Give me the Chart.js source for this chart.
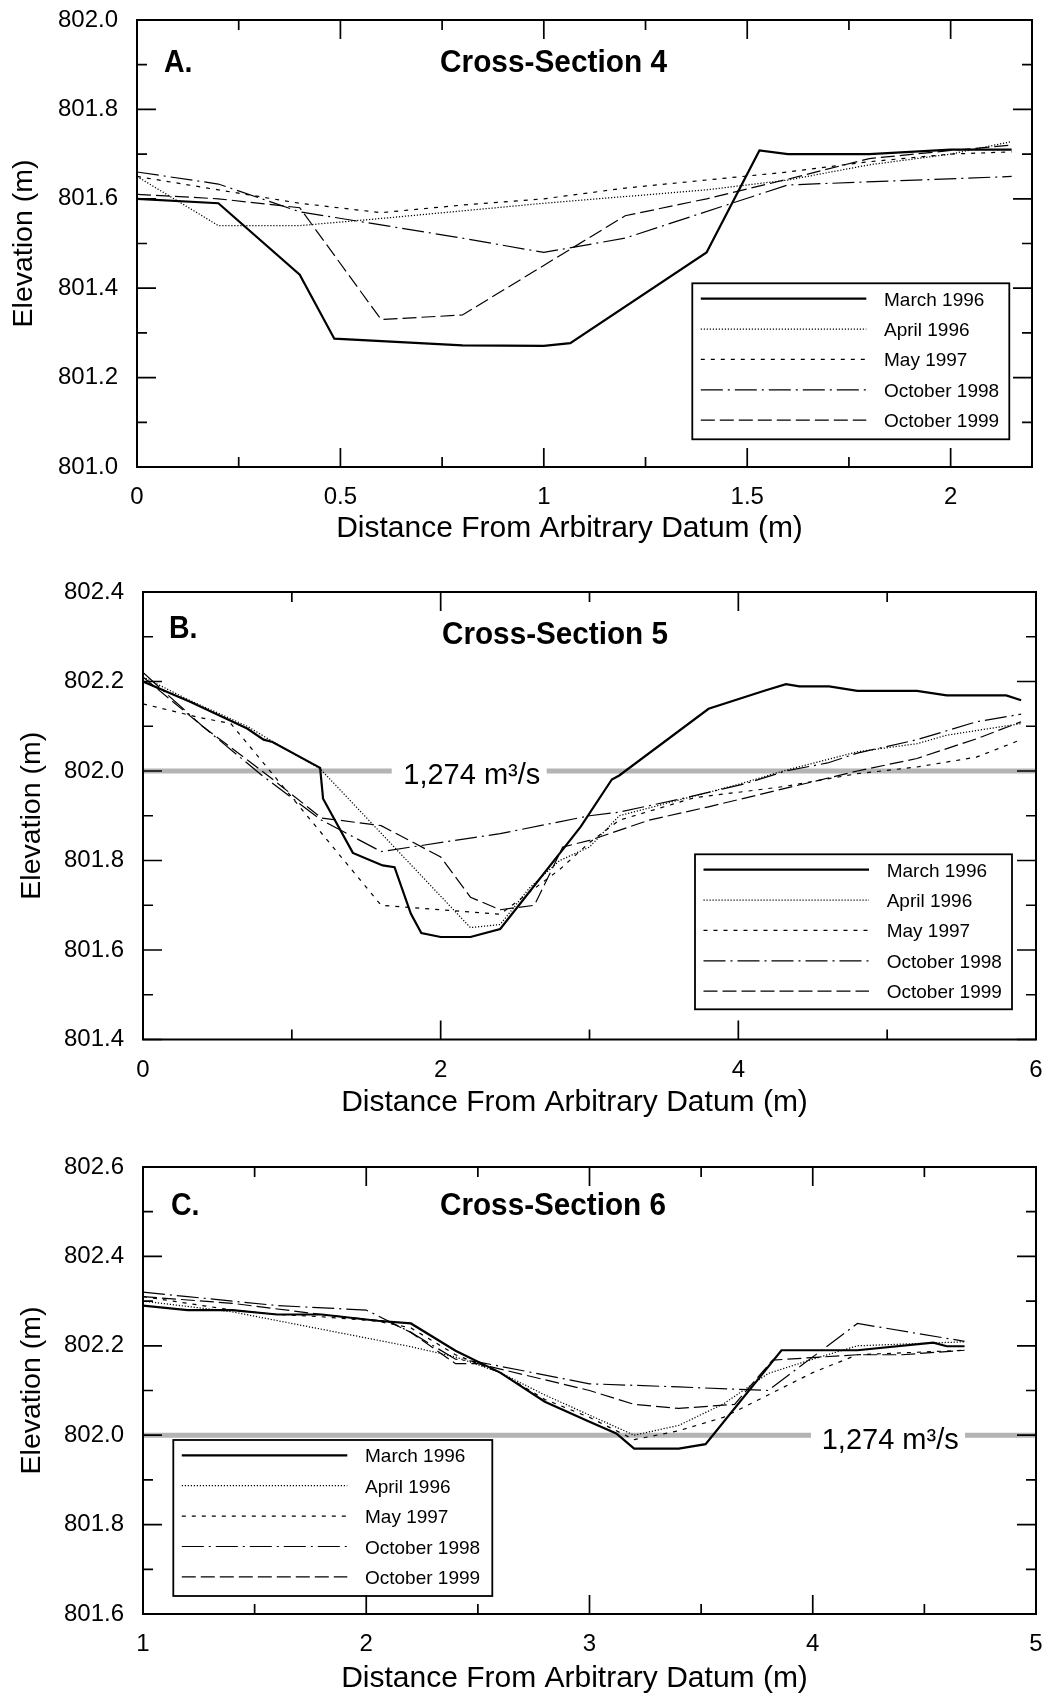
<!DOCTYPE html>
<html>
<head>
<meta charset="utf-8">
<script src="https://cdn.jsdelivr.net/npm/chart.js@4.4.1/dist/chart.umd.min.js"></script>
<style>
  html, body { margin: 0; padding: 0; background: #fff; }
  #wrap { position: relative; width: 1045px; height: 1697px; overflow: hidden; background: #fff; }
  canvas { position: absolute; left: 0; }
</style>
</head>
<body>
<div id="wrap">
  <canvas id="cA" width="1045" height="560" style="top:0px"></canvas>
  <canvas id="cB" width="1045" height="560" style="top:560px"></canvas>
  <canvas id="cC" width="1045" height="577" style="top:1120px"></canvas>
</div>
<script>
// ---------------- DATA ----------------
const seriesNames = ['March 1996', 'April 1996', 'May 1997', 'October 1998', 'October 1999'];

// Cross-Section 4 (panel A)
const a_x_mar = [0, 0.2, 0.4, 0.485, 0.8, 1.0, 1.065, 1.4, 1.53, 1.6, 1.8, 2.0, 2.15];
const a_y_mar = [801.60, 801.59, 801.43, 801.287, 801.272, 801.271, 801.277, 801.48, 801.708, 801.70, 801.70, 801.71, 801.71];
const a_x_apr = [0, 0.2, 0.4, 0.6, 0.8, 1.0, 1.2, 1.4, 1.6, 1.8, 2.0, 2.15];
const a_y_apr = [801.65, 801.54, 801.54, 801.556, 801.573, 801.59, 801.605, 801.62, 801.642, 801.676, 801.70, 801.728];
const a_x_may = [0, 0.4, 0.6, 0.8, 1.0, 1.2, 1.4, 1.6, 1.8, 2.0, 2.15];
const a_y_may = [801.65, 801.59, 801.569, 801.586, 801.60, 801.624, 801.642, 801.66, 801.683, 801.70, 801.705];
const a_x_o98 = [0, 0.2, 0.4, 0.8, 1.0, 1.2, 1.6, 2.15];
const a_y_o98 = [801.66, 801.633, 801.571, 801.512, 801.48, 801.512, 801.631, 801.65];
const a_x_o99 = [0, 0.2, 0.4, 0.6, 0.8, 1.2, 1.4, 1.6, 1.8, 2.0, 2.15];
const a_y_o99 = [801.61, 801.60, 801.58, 801.33, 801.34, 801.562, 801.60, 801.644, 801.69, 801.708, 801.72];

// Cross-Section 5 (panel B)
const b_x_mar = [0, 0.32, 0.7, 0.81, 0.87, 1.19, 1.21, 1.41, 1.61, 1.69, 1.8, 1.87, 2.0, 2.2, 2.4, 2.94, 3.15, 3.2, 3.8, 4.18, 4.32, 4.41, 4.61, 4.8, 5.2, 5.4, 5.8, 5.9];
const b_y_mar = [802.20, 802.154, 802.095, 802.07, 802.065, 802.007, 801.938, 801.817, 801.789, 801.785, 801.681, 801.638, 801.629, 801.629, 801.647, 801.875, 801.981, 801.99, 802.139, 802.18, 802.194, 802.189, 802.189, 802.179, 802.179, 802.169, 802.169, 802.158];
const b_x_apr = [0, 0.3, 0.7, 0.9, 1.19, 2.2, 2.4, 2.6, 2.8, 3.0, 3.2, 3.6, 4.0, 4.3, 4.8, 5.2, 5.4, 5.9];
const b_y_apr = [802.21, 802.16, 802.10, 802.06, 802.005, 801.65, 801.657, 801.74, 801.80, 801.83, 801.90, 801.935, 801.97, 802.0, 802.043, 802.061, 802.08, 802.106];
const b_x_may = [0, 0.36, 0.59, 1.6, 2.4, 2.6, 2.8, 3.0, 3.2, 3.7, 4.3, 4.8, 5.2, 5.6, 5.9];
const b_y_may = [802.15, 802.121, 802.106, 801.70, 801.68, 801.73, 801.78, 801.84, 801.89, 801.94, 801.965, 801.994, 802.009, 802.031, 802.07];
const b_x_o98 = [0, 0.4, 0.8, 1.2, 1.6, 2.4, 3.0, 3.2, 3.67, 4.05, 4.32, 4.6, 4.8, 5.2, 5.4, 5.6, 5.9];
const b_y_o98 = [802.22, 802.10, 801.99, 801.89, 801.82, 801.86, 801.90, 801.908, 801.942, 801.972, 802.0, 802.018, 802.04, 802.07, 802.09, 802.11, 802.127];
const b_x_o99 = [0, 0.4, 0.8, 1.2, 1.6, 2.0, 2.2, 2.4, 2.63, 2.82, 3.0, 3.4, 3.8, 4.3, 4.8, 5.2, 5.6, 5.9];
const b_y_o99 = [802.21, 802.10, 802.0, 801.895, 801.878, 801.808, 801.718, 801.69, 801.70, 801.83, 801.845, 801.89, 801.92, 801.96, 802.0, 802.028, 802.072, 802.11];

// Cross-Section 6 (panel C)
const c_x_mar = [1, 1.2, 1.4, 1.6, 1.8, 2.05, 2.2, 2.4, 2.6, 2.8, 3.0, 3.12, 3.2, 3.4, 3.52, 3.86, 4.2, 4.54, 4.6, 4.68];
const c_y_mar = [802.29, 802.28, 802.28, 802.27, 802.27, 802.256, 802.25, 802.189, 802.14, 802.075, 802.03, 802.004, 801.97, 801.97, 801.98, 802.19, 802.19, 802.207, 802.199, 802.199];
const c_x_apr = [1, 1.4, 1.8, 2.2, 2.4, 2.6, 2.8, 3.0, 3.2, 3.4, 3.6, 3.8, 4.0, 4.2, 4.68];
const c_y_apr = [802.30, 802.276, 802.237, 802.198, 802.175, 802.14, 802.09, 802.045, 802.0, 802.022, 802.07, 802.138, 802.17, 802.20, 802.209];
const c_x_may = [1, 1.2, 1.4, 1.6, 1.8, 2.05, 2.2, 2.4, 2.6, 2.8, 3.0, 3.2, 3.4, 3.6, 3.8, 4.0, 4.2, 4.68];
const c_y_may = [802.31, 802.295, 802.28, 802.27, 802.265, 802.255, 802.24, 802.18, 802.14, 802.08, 802.04, 801.99, 802.01, 802.04, 802.09, 802.14, 802.18, 802.19];
const c_x_o98 = [1, 1.2, 1.6, 2.0, 2.2, 2.4, 2.5, 3.0, 3.4, 3.8, 4.2, 4.68];
const c_y_o98 = [802.32, 802.31, 802.29, 802.28, 802.23, 802.17, 802.164, 802.115, 802.108, 802.10, 802.25, 802.21];
const c_x_o99 = [1, 1.4, 1.8, 2.1, 2.2, 2.4, 2.5, 3.0, 3.2, 3.4, 3.65, 3.82, 4.2, 4.4, 4.68];
const c_y_o99 = [802.31, 802.295, 802.27, 802.254, 802.23, 802.16, 802.16, 802.10, 802.069, 802.06, 802.069, 802.168, 802.18, 802.18, 802.19];

// Axis ticks (labelled and unlabelled)
const a_xTicks = [0, 0.5, 1, 1.5, 2];
const a_xMinor = [0.25, 0.75, 1.25, 1.75];
const a_yTicks = [801.0, 801.2, 801.4, 801.6, 801.8, 802.0];
const a_yMinor = [801.1, 801.3, 801.5, 801.7, 801.9];
const b_xTicks = [0, 2, 4, 6];
const b_xMinor = [1, 3, 5];
const b_yTicks = [801.4, 801.6, 801.8, 802.0, 802.2, 802.4];
const b_yMinor = [801.5, 801.7, 801.9, 802.1, 802.3];
const c_xTicks = [1, 2, 3, 4, 5];
const c_xMinor = [1.5, 2.5, 3.5, 4.5];
const c_yTicks = [801.6, 801.8, 802.0, 802.2, 802.4, 802.6];
const c_yMinor = [801.7, 801.9, 802.1, 802.3, 802.5];

// Reference flow level
const flowLevel = 802.0;
const flowLabel = '1,274 m\u00B3/s';

// ---------------- STYLE ----------------
const FONT = '"Liberation Sans", Arial, Helvetica, sans-serif';
const lineStyles = [
  { width: 2.2, dash: [] },
  { width: 1.25, dash: [1.2, 1.8] },
  { width: 1.2, dash: [4, 6] },
  { width: 1.2, dash: [22, 5, 2, 5] },
  { width: 1.2, dash: [14, 5] }
];

const decorCfg = {
  cA: {
    letter: 'A.', letterDx: 27, letterBase: 51.7,
    title: 'Cross-Section 4', titleDx: 303, titleBase: 51.7, titleW: 227,
    xTitleDx: 432.5, xTitleBase: 70,
    legend: { dx: 555.3, dy: 263.3, w: 317, h: 156 },
    xMajor: a_xTicks, xMinor: a_xMinor, yMajor: a_yTicks, yMinor: a_yMinor,
    ref: null
  },
  cB: {
    letter: 'B.', letterDx: 26, letterBase: 46.3,
    title: 'Cross-Section 5', titleDx: 299, titleBase: 52, titleW: 226,
    xTitleDx: 431.5, xTitleBase: 71,
    legend: { dx: 552, dy: 262.3, w: 317, h: 155 },
    xMajor: b_xTicks, xMinor: b_xMinor, yMajor: b_yTicks, yMinor: b_yMinor,
    ref: { gapStart: 248.7, gapEnd: 403.7, textLeft: 260.3, dy: 12.5 }
  },
  cC: {
    letter: 'C.', letterDx: 28, letterBase: 48,
    title: 'Cross-Section 6', titleDx: 297, titleBase: 48, titleW: 226,
    xTitleDx: 431.5, xTitleBase: 73,
    legend: { dx: 30.3, dy: 273, w: 319, h: 156 },
    xMajor: c_xTicks, xMinor: c_xMinor, yMajor: c_yTicks, yMinor: c_yMinor,
    ref: { gapStart: 668, gapEnd: 822, textLeft: 678.7, dy: 13.5 }
  }
};

function condensedText(ctx, text, x, base, size, targetW, sx) {
  ctx.save();
  ctx.font = 'bold ' + size + 'px ' + FONT;
  const w = ctx.measureText(text).width;
  const s = targetW ? targetW / w : sx;
  ctx.translate(x, base);
  ctx.scale(s, 1);
  ctx.textAlign = 'left';
  ctx.textBaseline = 'alphabetic';
  ctx.fillStyle = '#000';
  ctx.fillText(text, 0, 0);
  ctx.restore();
}

const decorPlugin = {
  id: 'decor',
  beforeDatasetsDraw(chart) {
    const o = decorCfg[chart.canvas.id];
    if (!o || !o.ref) return;
    const { ctx, chartArea: ca } = chart;
    const py = chart.scales.y.getPixelForValue(flowLevel);
    ctx.save();
    ctx.strokeStyle = '#b4b4b4';
    ctx.lineWidth = 5;
    ctx.lineCap = 'butt';
    ctx.beginPath();
    ctx.moveTo(ca.left, py); ctx.lineTo(ca.left + o.ref.gapStart, py);
    ctx.moveTo(ca.left + o.ref.gapEnd, py); ctx.lineTo(ca.right, py);
    ctx.stroke();
    ctx.fillStyle = '#000';
    ctx.font = '29px ' + FONT;
    ctx.textAlign = 'left';
    ctx.textBaseline = 'alphabetic';
    ctx.fillText(flowLabel, ca.left + o.ref.textLeft, py + o.ref.dy);
    ctx.restore();
  },
  afterDatasetsDraw(chart) {
    const o = decorCfg[chart.canvas.id];
    if (!o) return;
    const { ctx, chartArea: ca } = chart;
    const xs = chart.scales.x, ys = chart.scales.y;
    ctx.save();
    ctx.setLineDash([]);
    // legend
    const L = o.legend;
    const bx = ca.left + L.dx, by = ca.top + L.dy;
    ctx.fillStyle = '#fff';
    ctx.fillRect(bx, by, L.w, L.h);
    ctx.strokeStyle = '#000';
    ctx.lineWidth = 1.8;
    ctx.strokeRect(bx, by, L.w, L.h);
    chart.data.datasets.forEach((ds, i) => {
      const ry = by + 15.3 + i * 30.4;
      ctx.save();
      ctx.lineWidth = ds.borderWidth;
      ctx.setLineDash(ds.borderDash || []);
      ctx.strokeStyle = '#000';
      ctx.beginPath();
      ctx.moveTo(bx + 8.5, ry);
      ctx.lineTo(bx + 174, ry);
      ctx.stroke();
      ctx.restore();
      ctx.fillStyle = '#000';
      ctx.font = '19px ' + FONT;
      ctx.textAlign = 'left';
      ctx.textBaseline = 'alphabetic';
      ctx.fillText(ds.label, bx + 191.7, ry + 7);
    });
    // frame
    ctx.strokeStyle = '#000';
    ctx.lineWidth = 2;
    ctx.strokeRect(ca.left, ca.top, ca.right - ca.left, ca.bottom - ca.top);
    // ticks (inward, all four sides)
    ctx.lineWidth = 1.7;
    ctx.beginPath();
    const vt = (vals, len) => vals.forEach(v => {
      const px = xs.getPixelForValue(v);
      ctx.moveTo(px, ca.bottom); ctx.lineTo(px, ca.bottom - len);
      ctx.moveTo(px, ca.top); ctx.lineTo(px, ca.top + len);
    });
    const ht = (vals, len) => vals.forEach(v => {
      const py = ys.getPixelForValue(v);
      ctx.moveTo(ca.left, py); ctx.lineTo(ca.left + len, py);
      ctx.moveTo(ca.right, py); ctx.lineTo(ca.right - len, py);
    });
    vt(o.xMajor, 19); vt(o.xMinor, 10);
    ht(o.yMajor, 19); ht(o.yMinor, 10);
    ctx.stroke();
    // panel letter and title
    condensedText(ctx, o.letter, ca.left + o.letterDx, ca.top + o.letterBase, 31, null, 0.92);
    condensedText(ctx, o.title, ca.left + o.titleDx, ca.top + o.titleBase, 31, o.titleW, null);
    // x axis title
    ctx.fillStyle = '#000';
    ctx.font = '30px ' + FONT;
    ctx.textAlign = 'center';
    ctx.textBaseline = 'alphabetic';
    ctx.fillText('Distance From Arbitrary Datum (m)', ca.left + o.xTitleDx, ca.bottom + o.xTitleBase);
    ctx.restore();
  }
};

function buildChart(cfg) {
  const datasets = cfg.xs.map((xArr, i) => ({
    label: seriesNames[i],
    data: xArr.map((x, j) => ({ x: x, y: cfg.ys[i][j] })),
    borderColor: '#000',
    backgroundColor: '#000',
    borderWidth: lineStyles[i].width,
    borderDash: lineStyles[i].dash,
    borderCapStyle: 'butt',
    borderJoinStyle: 'miter',
    pointRadius: 0,
    pointHoverRadius: 0,
    fill: false,
    tension: 0
  }));
  return new Chart(document.getElementById(cfg.id), {
    type: 'line',
    data: { datasets: datasets },
    plugins: [decorPlugin],
    options: {
      responsive: false,
      animation: false,
      devicePixelRatio: 1,
      events: [],
      layout: { padding: { top: cfg.padTop, right: cfg.padRight, bottom: 0, left: 0 } },
      plugins: { legend: { display: false }, tooltip: { enabled: false } },
      scales: {
        x: {
          type: 'linear', min: cfg.xMin, max: cfg.xMax,
          grid: { display: false, drawTicks: false },
          border: { display: false },
          ticks: { color: '#000', font: { family: FONT, size: 24 }, padding: 16, maxRotation: 0, autoSkip: false,
                   callback: v => String(v) },
          afterBuildTicks: s => { s.ticks = cfg.xTicks.map(v => ({ value: v })); },
          afterFit: s => { s.height = cfg.xAxisH; s.paddingLeft = 0; s.paddingRight = 0; }
        },
        y: {
          type: 'linear', min: cfg.yMin, max: cfg.yMax,
          grid: { display: false, drawTicks: false },
          border: { display: false },
          ticks: { color: '#000', font: { family: FONT, size: 24 }, padding: 19, autoSkip: false,
                   callback: v => Number(v).toFixed(1) },
          title: { display: true, text: 'Elevation (m)', color: '#000', font: { family: FONT, size: 28.5 },
                   padding: { top: cfg.yTitlePad, bottom: 0 } },
          afterBuildTicks: s => { s.ticks = cfg.yTicks.map(v => ({ value: v })); },
          afterFit: s => { s.width = cfg.yAxisW; s.paddingTop = 0; s.paddingBottom = 0; }
        }
      }
    }
  });
}

buildChart({
  id: 'cA', xMin: 0, xMax: 2.2, yMin: 801.0, yMax: 802.0,
  xTicks: a_xTicks, yTicks: a_yTicks,
  xs: [a_x_mar, a_x_apr, a_x_may, a_x_o98, a_x_o99],
  ys: [a_y_mar, a_y_apr, a_y_may, a_y_o98, a_y_o99],
  padTop: 20, padRight: 13, yAxisW: 137, xAxisH: 93, yTitlePad: 6.7
});
buildChart({
  id: 'cB', xMin: 0, xMax: 6, yMin: 801.4, yMax: 802.4,
  xTicks: b_xTicks, yTicks: b_yTicks,
  xs: [b_x_mar, b_x_apr, b_x_may, b_x_o98, b_x_o99],
  ys: [b_y_mar, b_y_apr, b_y_may, b_y_o98, b_y_o99],
  padTop: 32, padRight: 9, yAxisW: 143, xAxisH: 80.5, yTitlePad: 15
});
buildChart({
  id: 'cC', xMin: 1, xMax: 5, yMin: 801.6, yMax: 802.6,
  xTicks: c_xTicks, yTicks: c_yTicks,
  xs: [c_x_mar, c_x_apr, c_x_may, c_x_o98, c_x_o99],
  ys: [c_y_mar, c_y_apr, c_y_may, c_y_o98, c_y_o99],
  padTop: 47, padRight: 9, yAxisW: 143, xAxisH: 83, yTitlePad: 15
});
</script>
</body>
</html>
